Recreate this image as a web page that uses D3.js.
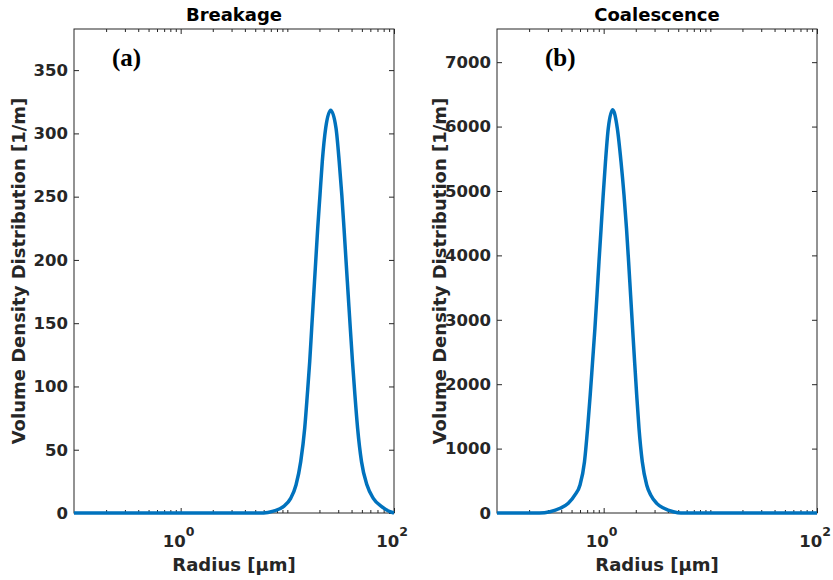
<!DOCTYPE html>
<html>
<head>
<meta charset="utf-8">
<script src="https://cdn.jsdelivr.net/npm/d3@7"></script>
<style>
  body { margin: 0; background: #fff; }
  text { font-family: "DejaVu Sans", sans-serif; font-weight: bold; }
</style>
</head>
<body>
<div id="chart"></div>
<script>
// values: radius in µm, density in 1/m
const titles = ["Breakage", "Coalescence"];
const tags = ["(a)", "(b)"];
const xDomain = [0.1, 100];
const xTickValues = [1, 100];
const xTickExponents = ["0", "2"];
const yTicksA = [0, 50, 100, 150, 200, 250, 300, 350];
const yTicksB = [0, 1000, 2000, 3000, 4000, 5000, 6000, 7000];
const yMaxA = 382.5;
const yMaxB = 7515;

const radiusA = [0.1, 1, 5, 6.0, 7.39, 9.17, 10.75, 12.06, 13.35, 14.55, 15.39, 16.21, 16.92, 17.67,
  18.45, 19.27, 20.24, 21.27, 22.89, 25.5, 28.59, 30.64, 32.41, 33.98, 35.55, 37.2, 38.93, 40.82,
  43.0, 45.58, 49.58, 55.83, 63.97, 76.67, 91.7, 100];
const densityA = [0, 0, 0, 0, 1.5, 5.0, 11.6, 22.1, 40.6, 67.0, 93.3, 119.7, 146.0, 172.4,
  198.7, 225.1, 251.5, 277.8, 304.2, 318.2, 304.2, 277.8, 251.5, 225.1, 198.7, 172.4, 146.0, 119.7,
  93.3, 67.0, 40.6, 22.1, 11.6, 5.0, 1.0, 0];

const radiusB = [0.1, 0.25, 0.314, 0.39, 0.466, 0.538, 0.6, 0.661, 0.707, 0.748, 0.787, 0.828, 0.866,
  0.904, 0.946, 0.99, 1.04, 1.105, 1.215, 1.342, 1.454, 1.551, 1.637, 1.713, 1.788, 1.867, 1.95,
  2.04, 2.144, 2.302, 2.532, 2.76, 3.141, 3.678, 4.496, 5.3, 100];
const densityB = [0, 0, 20, 73, 150, 280, 435, 797, 1315, 1833, 2350, 2868, 3386,
  3903, 4421, 4939, 5456, 5975, 6260, 5975, 5456, 4939, 4421, 3903, 3386, 2868, 2350,
  1833, 1315, 797, 435, 280, 150, 73, 20, 0, 0];

const width = 833, height = 580;
const marginTop = 29, panelW = 320, panelH = 484;
const axisColor = "#262626";
const lineColor = "#0072BD";

const panels = [
  { left: 74, ticks: yTicksA, ymax: yMaxA, r: radiusA, v: densityA, tagX: 38, ylabX: -49 },
  { left: 497, ticks: yTicksB, ymax: yMaxB, r: radiusB, v: densityB, tagX: 48, ylabX: -51 }
];

// minor ticks of the log axis (2..9 in each decade)
const minorTicks = [];
[0.1, 1, 10].forEach(base => {
  for (let k = 2; k <= 9; k++) minorTicks.push(base * k);
});
minorTicks.push(10);

const svg = d3.select("#chart")
  .append("svg")
  .attr("width", width)
  .attr("height", height);

panels.forEach(function(p, i) {
  const g = svg.append("g")
    .attr("transform", "translate(" + p.left + "," + marginTop + ")");

  const x = d3.scaleLog().domain(xDomain).range([0, panelW]);
  const y = d3.scaleLinear().domain([0, p.ymax]).range([panelH, 0]);

  const noDomain = sel => sel.select(".domain").remove();

  // y ticks, left (labelled) and right
  g.append("g")
    .call(d3.axisLeft(y).tickValues(p.ticks).tickFormat(d3.format("d")).tickSize(-5).tickPadding(6))
    .call(noDomain)
    .attr("color", axisColor)
    .attr("font-size", 16.5)
    .attr("font-family", "DejaVu Sans");

  g.append("g")
    .attr("transform", "translate(" + panelW + ",0)")
    .call(d3.axisRight(y).tickValues(p.ticks).tickSize(-5).tickFormat(""))
    .call(noDomain)
    .attr("color", axisColor);

  // x ticks, bottom and top, major and minor
  g.append("g")
    .attr("transform", "translate(0," + panelH + ")")
    .call(d3.axisBottom(x).tickValues(xTickValues).tickSize(-5).tickFormat(""))
    .call(noDomain)
    .attr("color", axisColor);
  g.append("g")
    .attr("transform", "translate(0," + panelH + ")")
    .call(d3.axisBottom(x).tickValues(minorTicks).tickSize(-3).tickFormat(""))
    .call(noDomain)
    .attr("color", axisColor);
  g.append("g")
    .call(d3.axisTop(x).tickValues(xTickValues).tickSize(-5).tickFormat(""))
    .call(noDomain)
    .attr("color", axisColor);
  g.append("g")
    .call(d3.axisTop(x).tickValues(minorTicks).tickSize(-3).tickFormat(""))
    .call(noDomain)
    .attr("color", axisColor);

  // x tick labels as powers of ten
  const xl = g.selectAll(".xlab")
    .data(xTickValues)
    .enter().append("text")
    .attr("class", "xlab")
    .attr("x", d => x(d) - 2)
    .attr("y", panelH + 34.3)
    .attr("text-anchor", "middle")
    .attr("fill", axisColor)
    .style("font-size", "16.5px");
  xl.append("tspan").text("10");
  xl.append("tspan")
    .attr("dy", -11.5)
    .style("font-size", "12.5px")
    .text((d, j) => xTickExponents[j]);

  // box
  g.append("rect")
    .attr("width", panelW)
    .attr("height", panelH)
    .attr("fill", "none")
    .attr("stroke", axisColor)
    .attr("stroke-width", 1);

  // curve
  const pts = p.r.map((r, j) => [r, p.v[j]]);
  g.append("path")
    .datum(pts)
    .attr("fill", "none")
    .attr("stroke", lineColor)
    .attr("stroke-width", 3.5)
    .attr("stroke-linejoin", "round")
    .attr("d", d3.line()
      .x(d => x(d[0]))
      .y(d => y(d[1]))
      .curve(d3.curveMonotoneX));

  // title, tag and axis labels
  g.append("text")
    .attr("x", panelW / 2)
    .attr("y", -8.3)
    .attr("text-anchor", "middle")
    .attr("fill", "#000")
    .style("font-size", "18px")
    .text(titles[i]);

  g.append("text")
    .attr("x", p.tagX)
    .attr("y", 37)
    .attr("fill", "#000")
    .style("font-family", "'Liberation Serif', serif")
    .style("font-size", "25px")
    .text(tags[i]);

  g.append("text")
    .attr("x", panelW / 2)
    .attr("y", panelH + 57.7)
    .attr("text-anchor", "middle")
    .attr("fill", axisColor)
    .style("font-size", "18px")
    .text("Radius [μm]");

  g.append("text")
    .attr("transform", "translate(" + p.ylabX + "," + (panelH / 2) + ") rotate(-90)")
    .attr("text-anchor", "middle")
    .attr("fill", axisColor)
    .style("font-size", "18px")
    .text("Volume Density Distribution [1/m]");
});
</script>
</body>
</html>
